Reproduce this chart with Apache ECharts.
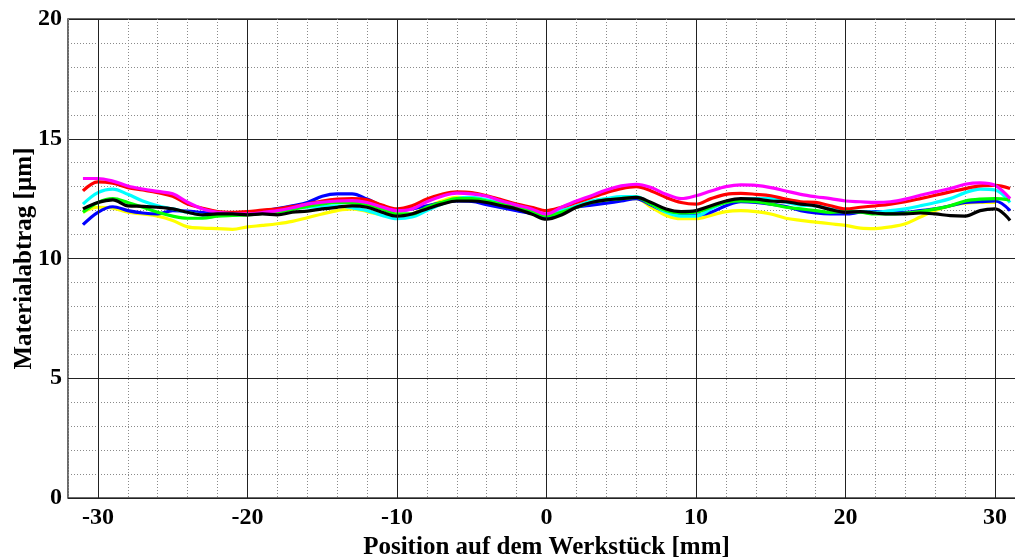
<!DOCTYPE html>
<html>
<head>
<meta charset="utf-8">
<script src="https://cdn.jsdelivr.net/npm/echarts@6/dist/echarts.min.js"></script>
<style>
  html, body { margin: 0; padding: 0; background: #fff; }
  #chart { width: 1015px; height: 559px; }
</style>
</head>
<body>
<div id="chart"></div>
<script>
// Measuring positions along the workpiece [mm]
const positions = [-31,-30,-29,-28,-27,-26,-25,-24,-23,-22,-21,-20,-19,-18,-17,-16,-15,-14,-13,-12,-11,-10,-9,-8,-7,-6,-5,-4,-3,-2,-1,0,1,2,3,4,5,6,7,8,9,10,11,12,13,14,15,16,17,18,19,20,21,22,23,24,25,26,27,28,29,30,31];

// Material removal profiles [µm], one per measurement
const blueProfile = [11.41,11.93,12.16,12.0,11.9,11.86,12.0,11.98,11.92,11.9,11.88,11.9,11.98,12.08,12.2,12.34,12.6,12.7,12.7,12.48,12.2,12.0,12.07,12.2,12.32,12.4,12.38,12.25,12.12,12.0,11.88,11.73,11.93,12.14,12.23,12.31,12.4,12.5,12.23,11.96,11.86,11.8,11.93,12.2,12.37,12.34,12.27,12.17,12.0,11.9,11.86,11.86,11.93,11.96,11.93,11.93,12.0,12.07,12.2,12.34,12.37,12.4,12.0];
const redProfile = [12.82,13.2,13.14,12.96,12.86,12.75,12.6,12.27,12.1,11.96,11.93,11.96,12.02,12.07,12.17,12.27,12.4,12.48,12.5,12.45,12.23,12.07,12.2,12.48,12.68,12.78,12.75,12.62,12.45,12.27,12.14,12.0,12.14,12.34,12.55,12.75,12.92,13.0,12.82,12.55,12.34,12.27,12.5,12.68,12.72,12.68,12.62,12.48,12.37,12.34,12.2,12.07,12.14,12.2,12.27,12.37,12.5,12.64,12.78,12.92,13.03,13.05,12.92];
const magentaProfile = [13.34,13.34,13.23,13.03,12.9,12.8,12.7,12.35,12.07,11.93,11.88,11.86,11.92,12.0,12.12,12.27,12.35,12.4,12.42,12.34,12.15,12.0,12.07,12.37,12.6,12.73,12.7,12.6,12.4,12.23,12.07,11.86,12.14,12.4,12.62,12.86,13.03,13.1,12.96,12.68,12.5,12.62,12.82,13.0,13.07,13.05,12.96,12.82,12.68,12.58,12.5,12.4,12.37,12.34,12.37,12.48,12.64,12.78,12.92,13.1,13.16,13.05,12.5];
const cyanProfile = [12.27,12.75,12.9,12.68,12.4,12.2,12.07,11.93,11.82,11.8,11.82,11.86,11.9,11.96,12.08,12.14,12.18,12.2,12.12,12.0,11.8,11.66,11.73,12.0,12.27,12.5,12.55,12.45,12.3,12.14,12.0,11.84,12.0,12.2,12.4,12.5,12.58,12.58,12.27,11.93,11.77,11.77,12.07,12.37,12.48,12.5,12.5,12.35,12.23,12.2,12.07,12.0,11.96,11.93,12.0,12.07,12.2,12.34,12.5,12.75,12.9,12.86,12.34];
const greenProfile = [11.93,12.34,12.5,12.34,12.14,11.93,11.77,11.68,11.68,11.77,11.8,11.82,11.88,11.93,12.05,12.17,12.28,12.34,12.32,12.23,12.07,11.86,11.86,12.14,12.34,12.5,12.5,12.4,12.27,12.14,11.97,11.78,11.93,12.14,12.34,12.45,12.5,12.55,12.27,12.0,11.9,11.93,12.14,12.34,12.4,12.37,12.27,12.14,12.07,12.0,11.93,11.96,11.93,11.86,11.86,11.9,11.96,12.07,12.2,12.4,12.48,12.5,12.45];
const yellowProfile = [11.93,12.14,12.1,11.93,11.86,11.77,11.59,11.32,11.27,11.25,11.22,11.32,11.38,11.45,11.55,11.7,11.86,12.0,12.07,11.96,11.82,11.73,11.86,12.14,12.4,12.55,12.5,12.4,12.27,12.14,11.97,11.75,11.9,12.14,12.34,12.45,12.5,12.5,12.14,11.8,11.66,11.66,11.8,11.96,12.0,11.96,11.86,11.68,11.59,11.52,11.45,11.38,11.27,11.25,11.32,11.45,11.73,12.0,12.2,12.31,12.34,12.34];
const blackProfile = [12.07,12.34,12.45,12.2,12.18,12.14,12.07,11.93,11.82,11.86,11.86,11.82,11.86,11.82,11.93,11.98,12.07,12.14,12.2,12.14,11.93,11.77,11.86,12.07,12.27,12.4,12.4,12.34,12.2,12.07,11.86,11.64,11.82,12.14,12.34,12.45,12.5,12.55,12.34,12.07,11.96,12.0,12.2,12.4,12.5,12.48,12.4,12.37,12.27,12.2,12.04,11.93,11.96,11.9,11.86,11.86,11.9,11.86,11.79,11.77,12.0,12.07,11.59];

// Major grid positions
const majorX = [-30, -20, -10, 0, 10, 20, 30];

const FONT = 'Liberation Serif';

function profileSeries(name, values, color) {
  return {
    name: name,
    type: 'line',
    z: 3,
    smooth: 0.35,
    showSymbol: false,
    symbol: 'none',
    lineStyle: { color: color, width: 3.2 },
    data: values.map((v, i) => [positions[i], v])
  };
}

const chart = echarts.init(document.getElementById('chart'), null, { renderer: 'canvas' });

chart.setOption({
  animation: false,
  backgroundColor: '#ffffff',
  grid: {
    left: 68, top: 19, right: -10, bottom: 61,
    outerBoundsMode: 'none',
    containLabel: false,
    show: true, borderColor: '#3a3a3a', borderWidth: 1.5, backgroundColor: 'transparent'
  },
  xAxis: {
    type: 'value',
    min: -32, max: 32, interval: 2,
    name: 'Position auf dem Werkstück [mm]',
    nameLocation: 'middle',
    nameGap: 37,
    nameMoveOverlap: false,
    nameTextStyle: { fontFamily: FONT, fontWeight: 'bold', fontSize: 25, color: '#000' },
    axisLine: { show: false },
    axisTick: { show: false },
    axisLabel: {
      margin: 8,
      fontFamily: FONT, fontWeight: 'bold', fontSize: 24, color: '#000',
      formatter: v => (majorX.includes(v) ? String(v) : '')
    },
    splitLine: { show: true, lineStyle: { color: '#8a8a8a', width: 1, type: [1, 2] } }
  },
  yAxis: {
    type: 'value',
    min: 0, max: 20, interval: 5,
    name: 'Materialabtrag [µm]',
    nameLocation: 'middle',
    nameGap: 31,
    nameMoveOverlap: false,
    nameTextStyle: { fontFamily: FONT, fontWeight: 'bold', fontSize: 25, color: '#000' },
    axisLine: { show: false },
    axisTick: { show: false },
    axisLabel: { margin: 6, fontFamily: FONT, fontWeight: 'bold', fontSize: 24, color: '#000' },
    splitLine: { show: true, lineStyle: { color: '#222', width: 1 } },
    minorTick: { show: false, splitNumber: 5 },
    minorSplitLine: { show: true, lineStyle: { color: '#8a8a8a', width: 1, type: [1, 2] } }
  },
  series: [
    {
      name: 'grid-major',
      type: 'line',
      z: 1,
      data: [],
      markLine: {
        silent: true,
        symbol: 'none',
        label: { show: false },
        lineStyle: { color: '#222', width: 1, type: 'solid' },
        data: majorX.map(x => ({ xAxis: x }))
      }
    },
    profileSeries('gelb', yellowProfile, '#ffff00'),
    profileSeries('blau', blueProfile, '#0000ff'),
    profileSeries('cyan', cyanProfile, '#00ffff'),
    profileSeries('grün', greenProfile, '#00ff00'),
    profileSeries('rot', redProfile, '#ff0000'),
    profileSeries('magenta', magentaProfile, '#ff00ff'),
    profileSeries('schwarz', blackProfile, '#000000')
  ]
});
</script>
</body>
</html>
